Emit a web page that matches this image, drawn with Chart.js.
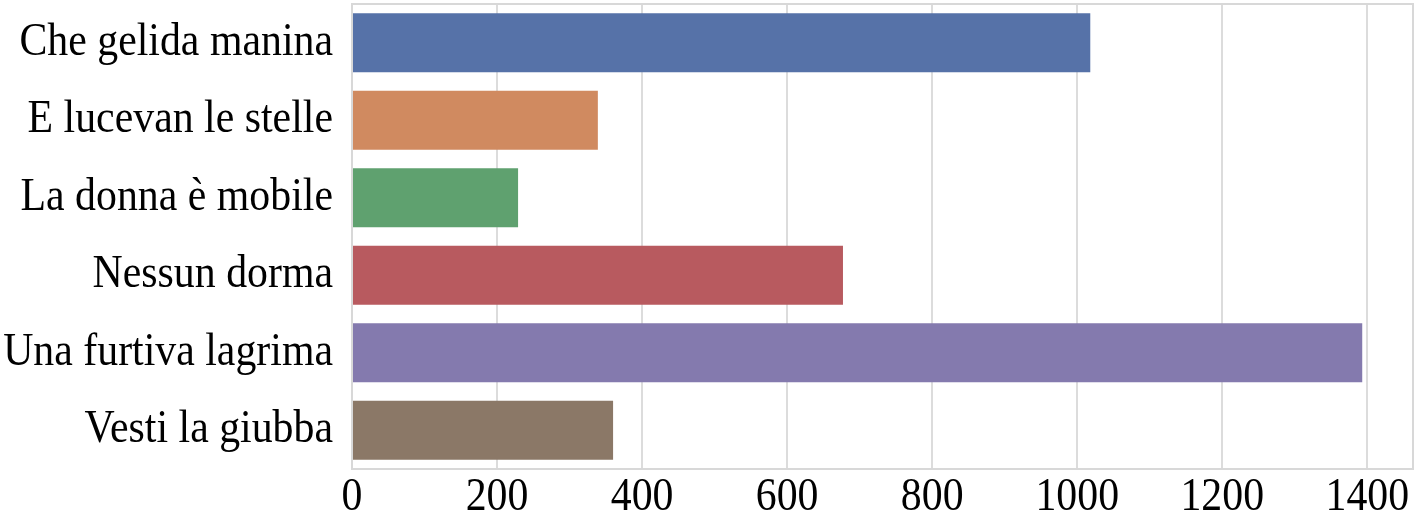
<!DOCTYPE html>
<html><head><meta charset="utf-8">
<script src="https://cdn.jsdelivr.net/npm/chart.js@4/dist/chart.umd.min.js"></script>
<style>html,body{margin:0;padding:0;background:#fff;}#wrap{width:1418px;height:513px;}</style>
</head><body><div id="wrap"><canvas id="c" width="1418" height="513"></canvas></div>
<script>
const categories = ["Che gelida manina","E lucevan le stelle","La donna è mobile","Nessun dorma","Una furtiva lagrima","Vesti la giubba"];
const values = [1018, 339, 229, 677, 1393, 360];
const barColors = ["#5672a8","#d08a60","#5fa16f","#b85a5f","#847aae","#8b7867"];
const xTicks = [0,200,400,600,800,1000,1200,1400];
const xMax = 1463;

const FONT = '47px "Liberation Serif", "Times New Roman", serif';
const SX = 0.89;

const frame = {id:'frame',
  afterDraw(chart){
    const a=chart.chartArea,c=chart.ctx;
    c.save();c.strokeStyle='#d8d8d8';c.lineWidth=2;
    c.strokeRect(a.left,a.top,a.right-a.left,a.bottom-a.top);
    c.fillStyle='#000';c.font=FONT;
    const ys=chart.scales.y, xs=chart.scales.x;
    categories.forEach((lab,i)=>{
      const y=ys.getPixelForValue(i);
      c.save();c.translate(a.left-19,y+12);c.scale(SX,1);
      c.textAlign='right';c.textBaseline='alphabetic';c.fillText(lab,0,0);c.restore();
    });
    xTicks.forEach(v=>{
      const x=xs.getPixelForValue(v);
      c.save();c.translate(x,a.bottom+41);c.scale(SX,1);
      c.textAlign='center';c.textBaseline='alphabetic';c.fillText(String(v),0,0);c.restore();
    });
    c.restore();
  }};

new Chart(document.getElementById('c'), {
  type:'bar',
  data:{labels:categories, datasets:[{data:values, backgroundColor:barColors, borderWidth:0, barPercentage:0.76, categoryPercentage:1}]},
  options:{
    indexAxis:'y', responsive:false, animation:false,
    layout:{padding:{left:0,right:5,top:4,bottom:0}},
    plugins:{legend:{display:false},tooltip:{enabled:false}},
    scales:{
      x:{min:0,max:xMax,
        afterBuildTicks(s){s.ticks=xTicks.map(v=>({value:v}));},
        afterFit(s){s.height=44;},
        grid:{color:'#dcdcdc',lineWidth:2,tickLength:0},border:{display:false},
        ticks:{display:false}},
      y:{grid:{display:false},border:{display:false},
        afterFit(s){s.width=352;},
        ticks:{display:false}}
    }
  },
  plugins:[frame]
});
</script></body></html>
